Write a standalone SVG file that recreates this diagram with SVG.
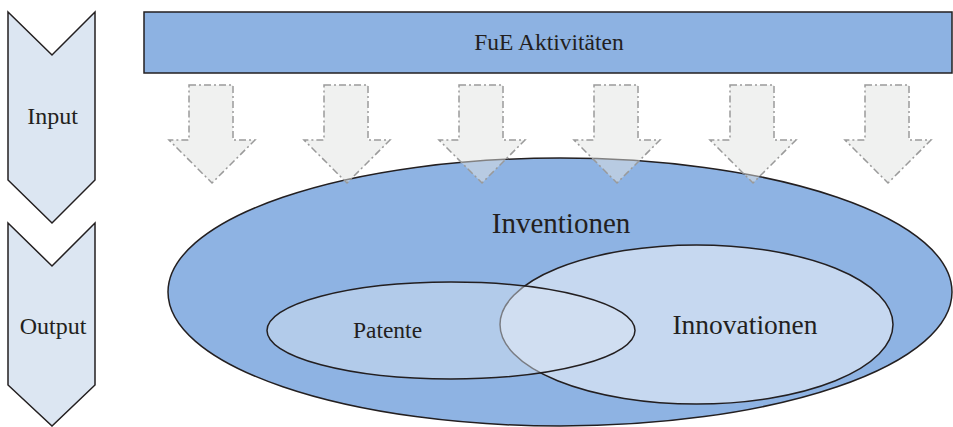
<svg xmlns="http://www.w3.org/2000/svg" width="953" height="427" viewBox="0 0 953 427">
<style>
.t{font-family:"Liberation Serif","Times New Roman",serif;fill:#231f20;text-anchor:middle}
.chev{fill:#dce6f2;stroke:#231f20;stroke-width:1.5}
.blk{fill:#e1e3e1;fill-opacity:0.5;stroke:#9a9a9a;stroke-width:1.5;stroke-dasharray:7 3 2 3}
</style>
<defs>
<path id="arr" d="M-23,85 H21 V140 H43 L0,183 L-43,140 H-23 Z"/>
</defs>
<g id="input">
<polygon class="chev" points="8,12 52,55 95,12 95,180 52,223 8,180"/>
<text class="t" x="52.5" y="124" font-size="24">Input</text>
</g>
<g id="output">
<polygon class="chev" points="8,223 52,266 95,223 95,385 52,426 8,385"/>
<text class="t" x="53" y="334" font-size="24">Output</text>
</g>
<g id="fue">
<rect x="144" y="12" width="808" height="61" fill="#8db2e2" stroke="#231f20" stroke-width="1.5"/>
<text class="t" x="549" y="50" font-size="23.5">FuE Aktivitäten</text>
</g>
<g id="inventionen">
<ellipse cx="560" cy="292" rx="392" ry="134" fill="#8eb3e3" stroke="#231f20" stroke-width="1.5"/>
<text class="t" x="561" y="233" font-size="29">Inventionen</text>
</g>
<g id="innovationen">
<ellipse cx="696.5" cy="324.5" rx="196.5" ry="79.5" fill="#c6d8f0" stroke="#231f20" stroke-width="1.5"/>
<text class="t" x="745" y="334" font-size="27.5">Innovationen</text>
</g>
<g id="patente">
<ellipse cx="451" cy="330.5" rx="184" ry="48.5" fill="#dae6f2" fill-opacity="0.47" stroke="#231f20" stroke-width="1.5"/>
<text class="t" x="387.5" y="338" font-size="23.5">Patente</text>
</g>
<g id="connectors">
<use href="#arr" class="blk" x="212"/>
<use href="#arr" class="blk" x="347"/>
<use href="#arr" class="blk" x="482"/>
<use href="#arr" class="blk" x="617"/>
<use href="#arr" class="blk" x="753"/>
<use href="#arr" class="blk" x="888"/>
</g>
</svg>
